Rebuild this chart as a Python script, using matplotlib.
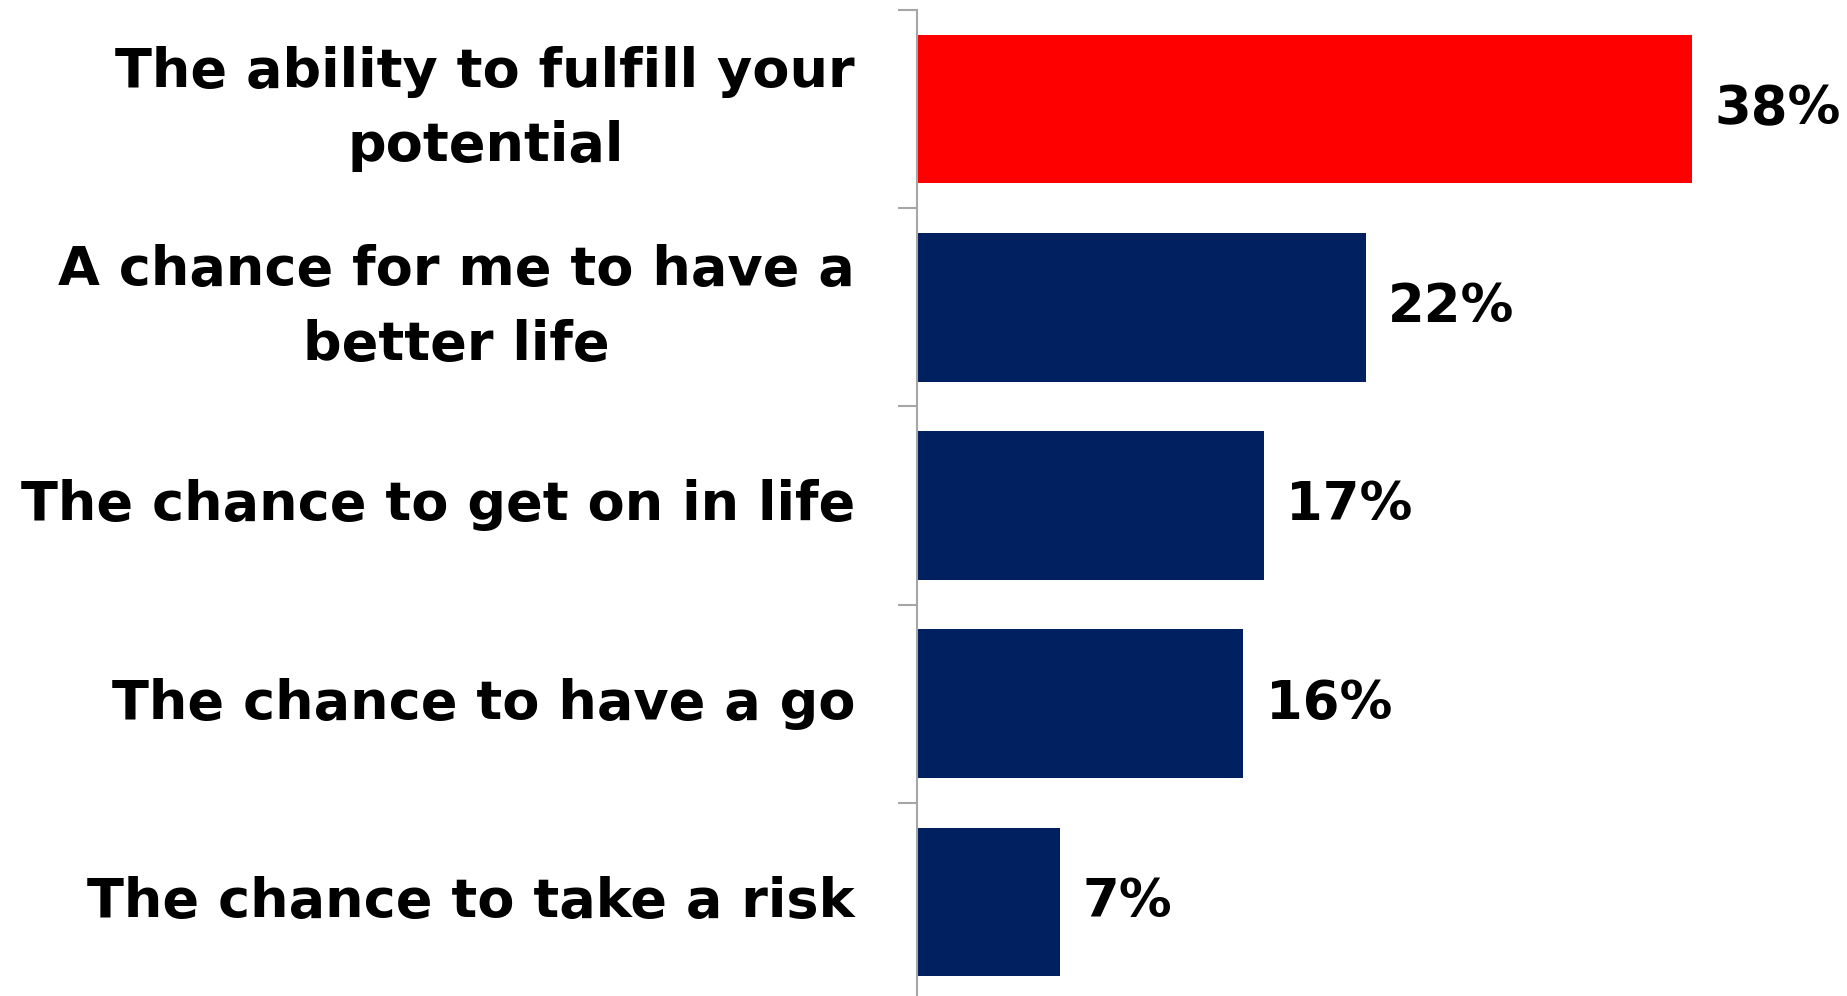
import matplotlib.pyplot as plt

# data
categories = [
    "The ability to fulfill your\npotential",
    "A chance for me to have a\nbetter life",
    "The chance to get on in life",
    "The chance to have a go",
    "The chance to take a risk",
]
values = [38, 22, 17, 16, 7]
bar_colors = ["#FF0000", "#002060", "#002060", "#002060", "#002060"]


def main():
    fig = plt.figure(figsize=(18.47, 9.96), dpi=100)
    ax = fig.add_axes([917 / 1847, 0, 816 / 1847, 986 / 996])

    pos = list(range(len(categories)))
    ax.barh(pos, values, height=0.75, color=bar_colors, zorder=2)

    ax.set_xlim(0, 40)
    ax.set_ylim(4.475, -0.5)

    for y, v in zip(pos, values):
        ax.text(v + 1.1, y, f"{v}%", va="center", ha="left",
                fontsize=38, fontweight="bold", color="black")

    # category labels, right aligned, centred lines
    for y, lab in zip(pos, categories):
        ax.text(-62 / 20.4, y, lab, va="center", ha="right", multialignment="center",
                fontsize=39, fontweight="bold", color="black", linespacing=1.55)

    ax.set_yticks([-0.5, 0.5, 1.5, 2.5, 3.5])
    ax.set_yticklabels([])
    ax.tick_params(axis="y", length=14, width=1.5, color="#A6A6A6")
    ax.set_xticks([])
    for side in ["top", "right", "bottom"]:
        ax.spines[side].set_visible(False)
    ax.spines["left"].set_color("#A6A6A6")
    ax.spines["left"].set_linewidth(1.5)

    fig.savefig("out.png", dpi=100)


if __name__ == "__main__":
    main()
